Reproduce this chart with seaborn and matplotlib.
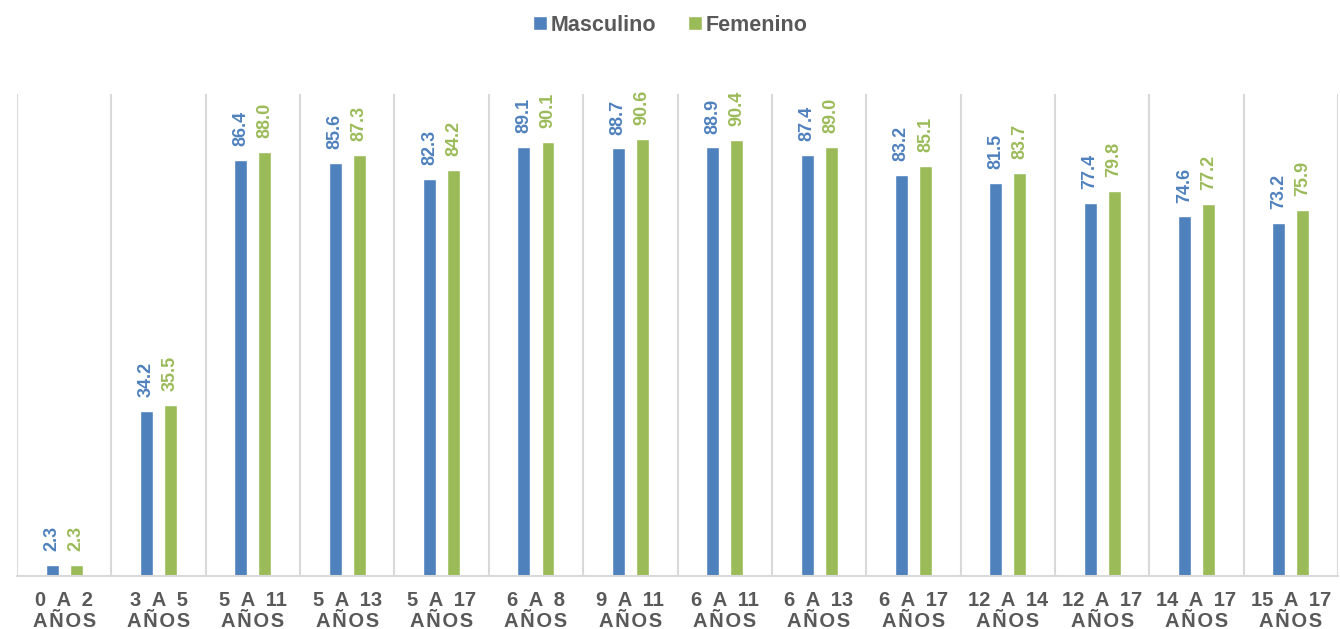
import numpy as np
import pandas as pd
import matplotlib
matplotlib.use("Agg")
import matplotlib.pyplot as plt
import seaborn as sns
from matplotlib.patches import Patch

# datos
grupos = ["0  A  2", "3  A  5", "5  A  11", "5  A  13", "5  A  17", "6  A  8", "9  A  11",
          "6  A  11", "6  A  13", "6  A  17", "12  A  14", "12  A  17", "14  A  17", "15  A  17"]
masculino = [2.3, 34.2, 86.4, 85.6, 82.3, 89.1, 88.7, 88.9, 87.4, 83.2, 81.5, 77.4, 74.6, 73.2]
femenino = [2.3, 35.5, 88.0, 87.3, 84.2, 90.1, 90.6, 90.4, 89.0, 85.1, 83.7, 79.8, 77.2, 75.9]
series = ["Masculino", "Femenino"]
colores = ["#4F81BD", "#9BBB59"]

df = pd.DataFrame({
    "grupo": grupos * 2,
    "sexo": ["Masculino"] * len(grupos) + ["Femenino"] * len(grupos),
    "valor": masculino + femenino,
})

sns.set_style("white")
plt.rcParams["font.family"] = ["Liberation Sans", "DejaVu Sans"]

HS = "\u200a"  # espacio fino para separar letras
anios = HS.join("AÑOS")

fig = plt.figure(figsize=(13.4, 6.29), dpi=100)
ax = fig.add_axes([0.0127, 0.0843, 0.9858, 0.7663])

sns.barplot(data=df, x="grupo", y="valor", hue="sexo", hue_order=series,
            palette=colores, width=0.51, gap=0.46, ax=ax, legend=False,
            saturation=1, errorbar=None)

# etiquetas de valores
for cont, col in zip(ax.containers, colores):
    for bar in cont:
        h = bar.get_height()
        ax.annotate(f"{h:.1f}", (bar.get_x() + bar.get_width() / 2, h),
                    xytext=(0, 10), textcoords="offset points",
                    rotation=90, ha="center", va="bottom",
                    color=col, fontsize=13, fontweight="bold")

# lineas separadoras
for k in range(len(grupos) + 1):
    ax.axvline(k - 0.5, color="#D9D9D9", lw=1.5, zorder=0)

ax.set_xlim(-0.5, len(grupos) - 0.5)
ax.set_ylim(0, 100)
ax.set_yticks([])
ax.set_xlabel("")
ax.set_ylabel("")
for s in ["top", "left", "right"]:
    ax.spines[s].set_visible(False)
ax.spines["bottom"].set_color("#D9D9D9")
ax.spines["bottom"].set_linewidth(1.5)

ax.set_xticks(range(len(grupos)))
ax.set_xticklabels([g + "\n" + anios for g in grupos],
                   fontsize=14.5, fontweight="bold", color="#595959", linespacing=1.1)
ax.tick_params(axis="x", length=0, pad=11)

handles = [Patch(facecolor=c, label=s) for c, s in zip(colores, series)]
fig.legend(handles=handles, loc="center", bbox_to_anchor=(0.5, 0.96), ncol=2,
           frameon=False, handlelength=0.65, handleheight=0.65, handletextpad=0.15,
           columnspacing=1.5,
           prop={"size": 15.5, "weight": "bold"}, labelcolor="#595959")

fig.savefig("out.png", dpi=100)
